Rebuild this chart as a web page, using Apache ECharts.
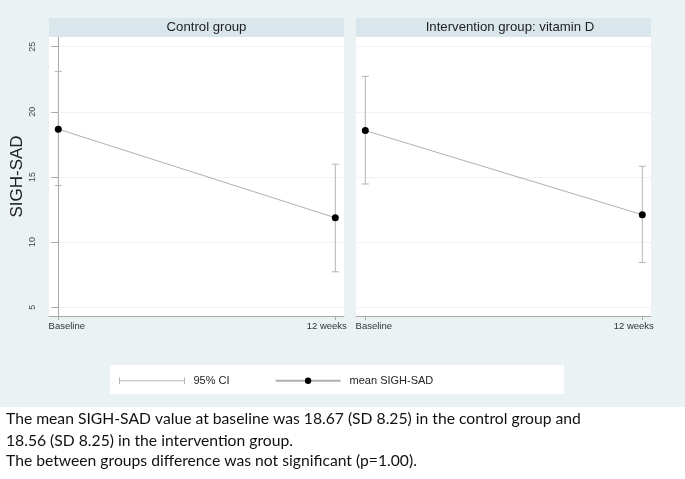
<!DOCTYPE html>
<html>
<head>
<meta charset="utf-8">
<script src="https://cdn.jsdelivr.net/npm/echarts@6/dist/echarts.min.js"></script>
<style>
html,body{margin:0;padding:0;background:#ffffff;}
#chart{width:685px;height:479px;}
</style>
</head>
<body>
<div id="chart"></div>
<script>
// ---- data ----
var timeLabels = ['Baseline', '12 weeks'];
var timePos = [0, 1];
var panelTitles = ['Control group', 'Intervention group: vitamin D'];
var controlMean = [18.67, 11.87];
var controlLow = [14.34, 7.72];
var controlHigh = [23.10, 15.98];
var interventionMean = [18.56, 12.10];
var interventionLow = [14.46, 8.44];
var interventionHigh = [22.72, 15.82];
var yTicks = [5, 10, 15, 20, 25];
var yTitle = 'SIGH-SAD';
var legendNames = ['95% CI', 'mean SIGH-SAD'];
var noteLines = [
  'The mean SIGH-SAD value at baseline was 18.67 (SD 8.25) in the control group and',
  '18.56 (SD 8.25) in the intervention group.',
  'The between groups difference was not significant (p=1.00).'
];

var chart = echarts.init(document.getElementById('chart'), null, {renderer: 'canvas'});
var FONT = 'Liberation Sans, Arial, sans-serif';
var AX = '#a9a9a9';
var CI_COLOR = '#b4b4b4';

function meanData(m) { return timePos.map(function (t, i) { return [t, m[i]]; }); }
function ciData(lo, hi) { return timePos.map(function (t, i) { return [t, lo[i], hi[i]]; }); }

function ciRender(params, api) {
  var x = api.value(0);
  var pLo = api.coord([x, api.value(1)]);
  var pHi = api.coord([x, api.value(2)]);
  var cap = 3.5;
  var st = {stroke: CI_COLOR, lineWidth: 1, fill: null};
  return {
    type: 'group',
    children: [
      {type: 'line', shape: {x1: pLo[0], y1: pLo[1], x2: pHi[0], y2: pHi[1]}, style: st},
      {type: 'line', shape: {x1: pLo[0] - cap, y1: pLo[1], x2: pLo[0] + cap, y2: pLo[1]}, style: st},
      {type: 'line', shape: {x1: pHi[0] - cap, y1: pHi[1], x2: pHi[0] + cap, y2: pHi[1]}, style: st}
    ]
  };
}

function xAxisCfg(idx) {
  return {
    type: 'value', gridIndex: idx, min: -0.0336, max: 1.0314,
    axisLine: {show: true, lineStyle: {color: AX, width: 1}},
    axisTick: {show: true, length: 4, lineStyle: {color: AX}, customValues: timePos},
    splitLine: {show: false},
    axisLabel: {
      customValues: timePos, margin: 5,
      color: '#333', fontFamily: FONT, fontSize: 9.5,
      formatter: function (v) {
        return v < 0.5 ? '{l|' + timeLabels[0] + '}' : '{r|' + timeLabels[1] + '}';
      },
      rich: {
        l: {padding: [0, 0, 0, 17], fontFamily: FONT, fontSize: 9.5, color: '#333'},
        r: {padding: [0, 17, 0, 0], fontFamily: FONT, fontSize: 9.5, color: '#333'}
      }
    }
  };
}

function yAxisCfg(idx, showLabels) {
  return {
    type: 'value', gridIndex: idx, min: 4.33, max: 25.74,
    name: showLabels ? yTitle : '',
    nameLocation: 'middle', nameGap: 23, nameRotate: 90,
    nameTextStyle: {fontFamily: FONT, fontSize: 17, color: '#222'},
    axisLine: {show: showLabels, lineStyle: {color: AX, width: 1}},
    axisTick: {show: showLabels, length: 7, lineStyle: {color: AX}, customValues: yTicks},
    splitLine: {show: true, lineStyle: {color: '#eef3f5', width: 1}},
    axisLabel: {
      show: showLabels, customValues: yTicks, rotate: 90, margin: 12,
      color: '#444', fontFamily: FONT, fontSize: 9
    }
  };
}

var option = {
  backgroundColor: '#ffffff',
  animation: false,
  graphic: [
    {type: 'rect', shape: {x: 0, y: 0, width: 685, height: 407}, style: {fill: '#eaf2f3'}, z: -10},
    {type: 'rect', shape: {x: 49, y: 37, width: 295, height: 279}, style: {fill: '#ffffff'}, z: -9},
    {type: 'rect', shape: {x: 356, y: 37, width: 295, height: 279}, style: {fill: '#ffffff'}, z: -9},
    {type: 'rect', shape: {x: 49, y: 18, width: 295, height: 19}, style: {fill: '#d9e6eb'}, z: -9},
    {type: 'rect', shape: {x: 356, y: 18, width: 295, height: 19}, style: {fill: '#d9e6eb'}, z: -9},
    {type: 'rect', shape: {x: 110, y: 365, width: 454, height: 29}, style: {fill: '#ffffff'}, z: -9},
    {type: 'text', x: 206.5, y: 27.5, style: {text: panelTitles[0], align: 'center', verticalAlign: 'middle', fontFamily: FONT, fontSize: 13.2, fill: '#222'}},
    {type: 'text', x: 510, y: 27.5, style: {text: panelTitles[1], align: 'center', verticalAlign: 'middle', fontFamily: FONT, fontSize: 13.2, fill: '#222'}},
    {type: 'text', x: 6, y: 419, style: {text: noteLines[0], verticalAlign: 'middle', fontFamily: 'Lato, sans-serif', fontSize: 15.7, fill: '#111'}},
    {type: 'text', x: 6, y: 440.5, style: {text: noteLines[1], verticalAlign: 'middle', fontFamily: 'Lato, sans-serif', fontSize: 15.7, fill: '#111'}},
    {type: 'text', x: 6, y: 461, style: {text: noteLines[2], verticalAlign: 'middle', fontFamily: 'Lato, sans-serif', fontSize: 15.7, fill: '#111'}}
  ],
  grid: [
    {left: 49, top: 37, width: 295, height: 279, containLabel: false},
    {left: 356, top: 37, width: 295, height: 279, containLabel: false}
  ],
  xAxis: [xAxisCfg(0), xAxisCfg(1)],
  yAxis: [yAxisCfg(0, true), yAxisCfg(1, false)],
  legend: {
    left: 117, top: 375, itemGap: 45, padding: 0,
    itemWidth: 65, itemHeight: 8,
    textStyle: {fontFamily: FONT, fontSize: 11, color: '#222', padding: [0, 0, 0, 4]},
    data: [
      {name: legendNames[0], icon: 'path://M0,0 L0,10 M0,5 L100,5 M100,0 L100,10',
       itemStyle: {color: 'none', borderColor: CI_COLOR, borderWidth: 1}},
      {name: legendNames[1]}
    ]
  },
  series: [
    {name: legendNames[0], type: 'custom', xAxisIndex: 0, yAxisIndex: 0, renderItem: ciRender,
     data: ciData(controlLow, controlHigh), itemStyle: {color: CI_COLOR}, z: 2},
    {name: legendNames[0], type: 'custom', xAxisIndex: 1, yAxisIndex: 1, renderItem: ciRender,
     data: ciData(interventionLow, interventionHigh), itemStyle: {color: CI_COLOR}, z: 2},
    {name: legendNames[1], type: 'line', xAxisIndex: 0, yAxisIndex: 0, data: meanData(controlMean),
     symbol: 'circle', symbolSize: 7, itemStyle: {color: '#000'},
     lineStyle: {color: '#b0b0b0', width: 1}, z: 3},
    {name: legendNames[1], type: 'line', xAxisIndex: 1, yAxisIndex: 1, data: meanData(interventionMean),
     symbol: 'circle', symbolSize: 7, itemStyle: {color: '#000'},
     lineStyle: {color: '#b0b0b0', width: 1}, z: 3}
  ]
};
chart.setOption(option);
</script>
</body>
</html>
